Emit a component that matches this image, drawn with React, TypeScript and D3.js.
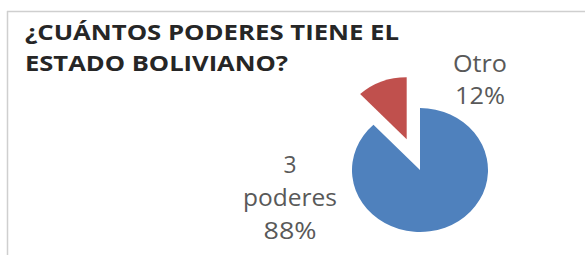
import * as d3 from "d3";

const categories = ["3 poderes", "Otro"];
const values = [88, 12];
const colors = ["#4F81BD", "#C0504D"];
const titleLines = ["¿CUÁNTOS PODERES TIENE EL", "ESTADO BOLIVIANO?"];

const W = 585;
const H = 255;

export default function App() {
  const cx = 420;
  const cy = 170;
  const r = 62;
  const explode = [0, 33];

  const pie = d3
    .pie<number>()
    .sort(null)
    .value((d) => d)(values);
  const arc = d3.arc<d3.PieArcDatum<number>>().innerRadius(0).outerRadius(r);

  const total = d3.sum(values);
  const pct = values.map((v) => `${Math.round((v / total) * 100)}%`);

  // label blocks (centre x, first baseline, line gap, widths)
  const labels = [
    { x: 290, y: 173, gap: 33, lines: ["3", "poderes", pct[0]], widths: [13, 94, 53] },
    { x: 480, y: 72, gap: 31.5, lines: [categories[1], pct[1]], widths: [54, 50] },
  ];

  return (
    <div style={{ position: "absolute", left: 0, top: 0 }}>
      <svg width={W} height={H} style={{ display: "block", background: "#fff" }}>
        {/* frame */}
        <line x1={7} x2={W} y1={11.5} y2={11.5} stroke="#cfcfcf" strokeWidth={1.5} />
        <line x1={7.5} x2={7.5} y1={11} y2={H} stroke="#cfcfcf" strokeWidth={1.5} />

        {/* title */}
        {titleLines.map((t, i) => (
          <text
            key={t}
            x={25}
            y={40 + i * 31}
            fontFamily="'Open Sans', sans-serif"
            fontWeight="bold"
            fontSize={21.5}
            fill="#262626"
            textLength={i === 0 ? 374 : 263}
            lengthAdjust="spacingAndGlyphs"
          >
            {t}
          </text>
        ))}

        {/* pie */}
        <g transform={`translate(${cx},${cy}) scale(1.097,1)`}>
          {pie.map((d, i) => {
            const mid = (d.startAngle + d.endAngle) / 2;
            const dx = Math.sin(mid) * explode[i];
            const dy = -Math.cos(mid) * explode[i];
            return (
              <path
                key={categories[i]}
                d={arc(d) ?? ""}
                transform={`translate(${dx},${dy})`}
                fill={colors[i]}
              />
            );
          })}
        </g>

        {/* data labels */}
        {labels.map((l, j) =>
          l.lines.map((t, i) => (
            <text
              key={`${j}-${i}`}
              x={l.x}
              y={l.y + i * l.gap}
              textAnchor="middle"
              fontFamily="'Open Sans', sans-serif"
              fontSize={24}
              fill="#595959"
              textLength={l.widths[i]}
              lengthAdjust="spacingAndGlyphs"
            >
              {t}
            </text>
          ))
        )}
      </svg>
    </div>
  );
}
